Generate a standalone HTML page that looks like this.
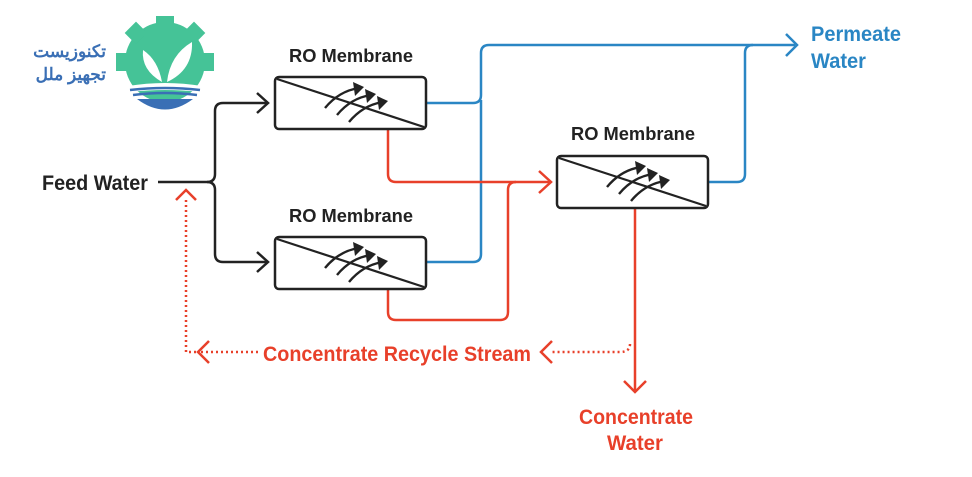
<!DOCTYPE html>
<html><head><meta charset="utf-8"><style>
html,body{margin:0;padding:0;background:#fff;}
svg{display:block;}
text{font-family:"Liberation Sans Narrow","Liberation Sans",sans-serif;}
</style></head><body>
<svg width="972" height="477" viewBox="0 0 972 477" xmlns="http://www.w3.org/2000/svg">
<defs>
<g id="mem">
  <rect x="0" y="0" width="151" height="52" rx="4" fill="#fff" stroke="#222" stroke-width="2.5"/>
  <line x1="2" y1="2" x2="149" y2="50" stroke="#222" stroke-width="2.2"/>
  <g fill="none" stroke="#222" stroke-width="2.4">
    <path d="M50 31 Q64 14 84 11"/>
    <path d="M62 38 Q76 21 96 18"/>
    <path d="M74 45 Q88 28 108 25"/>
  </g>
  <g fill="#222">
    <path d="M78 5 L89 10 L80 19 Z"/>
    <path d="M90 12 L101 17 L92 26 Z"/>
    <path d="M102 19 L113 24 L104 33 Z"/>
  </g>
</g>
</defs>

<!-- logo -->
<g>
  <g fill="#45c397">
    <circle cx="165" cy="62" r="40"/>
    <rect x="156" y="16" width="18" height="14"/>
    <rect x="116" y="53" width="12" height="18"/>
    <rect x="202" y="53" width="12" height="18"/>
    <rect x="128" y="25" width="16" height="16" transform="rotate(45 136 33)"/>
    <rect x="186" y="25" width="16" height="16" transform="rotate(45 194 33)"/>
  </g>
  <path d="M128 86 Q165 80 202 86 L200 92 Q165 88 130 92 Z" fill="#fff"/>
  <path d="M130 90 Q165 86 200 90" stroke="#3a6fb5" stroke-width="2.5" fill="none"/>
  <path d="M133 95 Q165 91 197 95" stroke="#3a6fb5" stroke-width="2.5" fill="none"/>
  <path d="M137 99 Q165 120 193 99 Z" fill="#3a6fb5"/>
  <path d="M162 82 Q158 60 143 50 Q141 70 162 82 Z" fill="#fff"/>
  <path d="M167 82 Q170 55 192 42 Q193 70 167 82 Z" fill="#fff"/>
  <text x="106" y="57" font-family="'Liberation Sans','Noto Sans CJK SC',sans-serif" font-size="17" font-weight="bold" fill="#3a6fb5" text-anchor="end">تکنوزیست</text>
  <text x="106" y="80" font-family="'Liberation Sans','Noto Sans CJK SC',sans-serif" font-size="17" font-weight="bold" fill="#3a6fb5" text-anchor="end">تجهیز ملل</text>
</g>

<!-- labels -->
<g font-size="21" fill="#222" font-weight="bold">
  <text x="42" y="190" textLength="106" lengthAdjust="spacingAndGlyphs">Feed Water</text>
  <text x="289" y="62" font-size="18" textLength="124" lengthAdjust="spacingAndGlyphs">RO Membrane</text>
  <text x="289" y="222" font-size="18" textLength="124" lengthAdjust="spacingAndGlyphs">RO Membrane</text>
  <text x="571" y="140" font-size="18" textLength="124" lengthAdjust="spacingAndGlyphs">RO Membrane</text>
</g>
<g font-size="21" fill="#2a86c4" font-weight="bold">
  <text x="811" y="41" textLength="90" lengthAdjust="spacingAndGlyphs">Permeate</text>
  <text x="811" y="68" textLength="55" lengthAdjust="spacingAndGlyphs">Water</text>
</g>
<g font-size="21" fill="#e8402a" font-weight="bold">
  <text x="263" y="361" textLength="268" lengthAdjust="spacingAndGlyphs">Concentrate Recycle Stream</text>
  <text x="579" y="424" textLength="114" lengthAdjust="spacingAndGlyphs">Concentrate</text>
  <text x="607" y="450" textLength="56" lengthAdjust="spacingAndGlyphs">Water</text>
</g>

<!-- feed lines -->
<g fill="none" stroke="#222" stroke-width="2.5">
  <path d="M158 182 H207 Q215 182 215 174 V111 Q215 103 223 103 H268"/>
  <path d="M207 182 Q215 182 215 190 V254 Q215 262 223 262 H268"/>
  <path d="M257 93 L268 103 L257 113"/>
  <path d="M257 252 L268 262 L257 272"/>
</g>

<!-- blue lines -->
<g fill="none" stroke="#2a86c4" stroke-width="2.5">
  <path d="M426 103 H473 Q481 103 481 95 V53 Q481 45 489 45 H795"/>
  <path d="M426 262 H473 Q481 262 481 254 V100"/>
  <path d="M709 182 H737 Q745 182 745 174 V53 Q745 45 753 45"/>
  <path d="M786 34 L797 45 L786 56"/>
</g>

<!-- red lines -->
<g fill="none" stroke="#e8402a" stroke-width="2.5">
  <path d="M388 129 V174 Q388 182 396 182 H550"/>
  <path d="M388 288 V312 Q388 320 396 320 H500 Q508 320 508 312 V190 Q508 182 516 182"/>
  <path d="M539 171 L551 182 L539 193"/>
  <path d="M635 208 V390"/>
  <path d="M624 381 L635 392 L646 381"/>
  <path d="M630 344 Q630 352 620 352 H550" stroke-dasharray="2 3"/>
  <path d="M552 341 L541 352 L552 363"/>
  <path d="M258 352 H200" stroke-dasharray="2 3"/>
  <path d="M209 341 L198 352 L209 363"/>
  <path d="M196 352 H186 V198" stroke-dasharray="2 3"/>
  <path d="M176 200 L186 190 L196 200"/>
</g>

<use href="#mem" x="275" y="77"/>
<use href="#mem" x="275" y="237"/>
<use href="#mem" x="557" y="156"/>
</svg>
</body></html>
